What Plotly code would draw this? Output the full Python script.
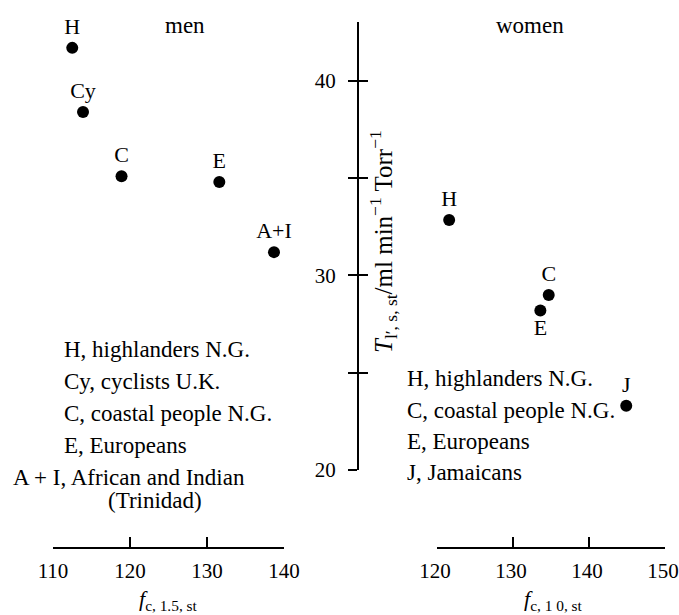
import plotly.graph_objects as go

# ---- data ----
men_groups = ["H", "Cy", "C", "E", "A+I"]
men_fc = [112.5, 113.9, 118.9, 131.6, 138.7]
men_T = [41.7, 38.4, 35.1, 34.8, 31.2]

women_groups = ["H", "C", "E", "J"]
women_fc = [121.6, 134.7, 133.6, 144.9]
women_T = [32.85, 29.0, 28.2, 23.3]

men_ticks = [110, 120, 130, 140]
women_ticks = [120, 130, 140, 150]
y_ticks = [20, 25, 30, 35, 40]
y_ticktext = ["20", "", "30", "", "40"]

men_legend = ["H, highlanders N.G.", "Cy, cyclists U.K.", "C, coastal people N.G.",
              "E, Europeans", "A + I, African and Indian", "(Trinidad)"]
women_legend = ["H, highlanders N.G.", "C, coastal people N.G.", "E, Europeans", "J, Jamaicans"]

# ---- layout helpers ----
W, H = 679, 615
FONT = "Liberation Serif"


def px(x):
    return x / W


def py(y):
    return 1 - y / H


fig = go.Figure()

fig.add_trace(go.Scatter(
    x=men_fc, y=men_T, xaxis="x", yaxis="y", mode="markers+text",
    text=men_groups, textposition="top center",
    textfont=dict(family=FONT, size=22, color="black"),
    marker=dict(size=12, color="black"), cliponaxis=False, showlegend=False))

women_pos = ["top center", "top center", "bottom center", "top center"]
fig.add_trace(go.Scatter(
    x=women_fc, y=women_T, xaxis="x2", yaxis="y", mode="markers+text",
    text=women_groups, textposition=women_pos,
    textfont=dict(family=FONT, size=22, color="black"),
    marker=dict(size=12, color="black"), cliponaxis=False, showlegend=False))

# dummy trace to make the overlay axis (crossing ticks) exist
fig.add_trace(go.Scatter(x=[], y=[], xaxis="x2", yaxis="y2", showlegend=False))

axis_common = dict(showgrid=False, zeroline=False, showline=True, linecolor="black",
                   linewidth=2, tickcolor="black", tickwidth=2, automargin=False,
                   ticklabeloverflow="allow",
                   tickfont=dict(family=FONT, size=21, color="black"))

y_dom = [py(470), py(22)]
y_rng = [20, 43.03]

fig.update_layout(
    width=W, height=H, margin=dict(l=0, r=0, t=0, b=0, pad=0, autoexpand=False),
    paper_bgcolor="white", plot_bgcolor="white",
    font=dict(family=FONT, color="black"),
    showlegend=False,
    xaxis=dict(domain=[px(53), px(284)], range=[110, 140], anchor="free", position=py(548),
               tickmode="array", tickvals=men_ticks, ticks="inside", ticklen=10,
               ticklabelstandoff=4, **axis_common),
    xaxis2=dict(domain=[px(437), px(665)], range=[120, 150], anchor="free", position=py(548),
                tickmode="array", tickvals=women_ticks, ticks="inside", ticklen=10,
                ticklabelstandoff=4, ticklabelshift=-2, **axis_common),
    yaxis=dict(domain=y_dom, range=y_rng, anchor="free", position=px(358),
               tickmode="array", tickvals=y_ticks, ticktext=y_ticktext,
               ticks="outside", ticklen=9, ticklabelstandoff=8, **axis_common),
    yaxis2=dict(domain=y_dom, range=y_rng, anchor="free", position=px(358), overlaying="y",
                tickmode="array", tickvals=y_ticks, ticks="inside", ticklen=9,
                showticklabels=False, showgrid=False, zeroline=False, showline=False,
                tickcolor="black", tickwidth=2, automargin=False),
)

ann = []
txt = dict(family=FONT, size=23, color="black")


def note(text, x, y, xanchor="center", font=txt, **kw):
    ann.append(dict(text=text, x=px(x), y=py(y), xref="paper", yref="paper",
                    xanchor=xanchor, yanchor="middle", showarrow=False, font=font, **kw))


note("men", 185, 25)
note("women", 530, 25)

men_y = [349, 381, 413, 445, 477]
for t, yy in zip(men_legend[:5], men_y):
    xx = 11 if t.startswith("A") else 62
    note(t, xx, yy, xanchor="left")
note(men_legend[5], 155, 501)

women_y = [378, 410, 441, 472]
for t, yy in zip(women_legend, women_y):
    note(t, 405, yy, xanchor="left")

tfont = dict(family=FONT, size=22, color="black")
note("<i>f</i><sub>c, 1.5, st</sub>", 168, 600, font=tfont)
note("<i>f</i><sub>c, 1 0, st</sub>", 553, 600, font=tfont)
note("<i>T</i><sub>l′, s, st</sub>/ml min<sup>−1</sup> Torr<sup>−1</sup>", 383, 242,
     font=dict(family=FONT, size=25, color="black"), textangle=-90)

fig.update_layout(annotations=ann)
fig.write_html("out.html")
